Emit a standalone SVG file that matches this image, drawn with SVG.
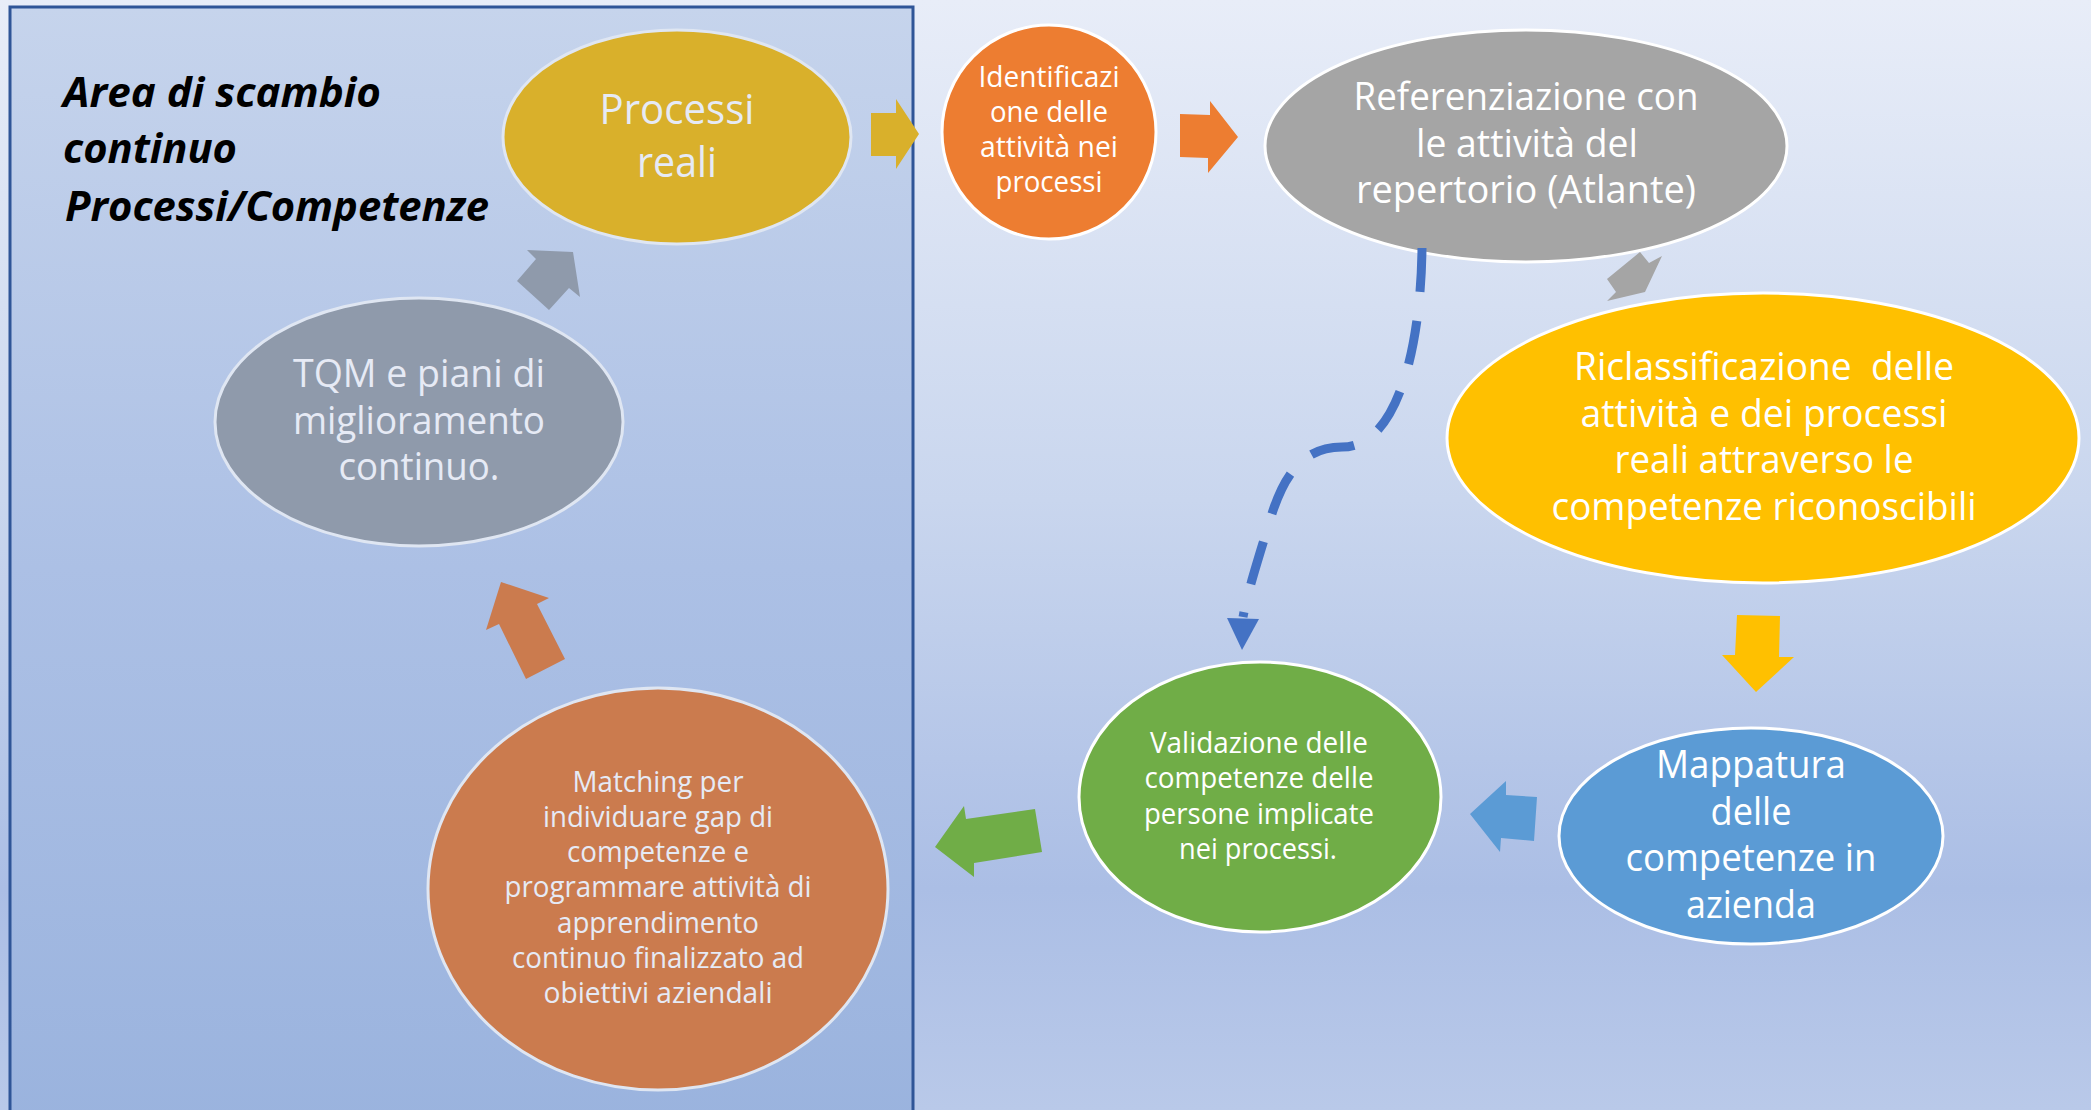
<svg xmlns="http://www.w3.org/2000/svg" width="2091" height="1110" viewBox="0 0 2091 1110">
  <defs>
    <linearGradient id="bg" x1="0" y1="0" x2="0" y2="1">
      <stop offset="0" stop-color="#e8edf8"/>
      <stop offset="0.45" stop-color="#c9d6ee"/>
      <stop offset="0.8" stop-color="#abbee5"/>
      <stop offset="1" stop-color="#b9c9e9"/>
    </linearGradient>
    <linearGradient id="areaFill" x1="0" y1="0" x2="0" y2="1">
      <stop offset="0" stop-color="#c6d4ec"/>
      <stop offset="0.5" stop-color="#acc0e5"/>
      <stop offset="1" stop-color="#9ab3de"/>
    </linearGradient>
    <style>
      .lbl { font-family: "Open Sans", "Liberation Sans", sans-serif; text-anchor: middle; fill: #ffffff; }
      .soft { fill: #e6eaf5; }
      .s29 { font-size: 28.8px; }
      .s38 { font-size: 37.8px; }
      .s41 { font-size: 41.4px; }
      .node { stroke: #ffffff; stroke-width: 3; }
      .nodeSoft { stroke: #dfe6f2; stroke-width: 3; }
      .title { font-family: "Open Sans", "Liberation Sans", sans-serif; font-size: 41.4px; font-weight: bold; font-style: italic; fill: #000000; }
      .dash { fill: none; stroke: #4472c4; stroke-width: 9; stroke-dasharray: 44 29; }
    </style>
  </defs>

  <!-- page background -->
  <rect x="0" y="0" width="2091" height="1110" fill="url(#bg)"/>

  <!-- exchange area frame -->
  <g id="area">
    <rect x="10" y="7" width="903" height="1120" fill="url(#areaFill)" stroke="#2f5597" stroke-width="3"/>
    <text class="title" x="63" y="107" textLength="318" lengthAdjust="spacingAndGlyphs">Area di scambio</text>
    <text class="title" x="63" y="163" textLength="174" lengthAdjust="spacingAndGlyphs">continuo</text>
    <text class="title" x="65" y="221" textLength="424" lengthAdjust="spacingAndGlyphs">Processi/Competenze</text>
  </g>

  <!-- nodes -->
  <g id="processi-reali">
    <ellipse class="nodeSoft" cx="677" cy="137" rx="174" ry="107" fill="#d9b02b"/>
    <text class="lbl soft s41" x="677" y="124" textLength="155" lengthAdjust="spacingAndGlyphs">Processi</text>
    <text class="lbl soft s41" x="677" y="177" textLength="80" lengthAdjust="spacingAndGlyphs">reali</text>
  </g>

  <g id="identificazione">
    <ellipse class="node" cx="1049" cy="132" rx="107" ry="107" fill="#ed7d31"/>
    <text class="lbl s29" x="1049" y="87" textLength="141" lengthAdjust="spacingAndGlyphs">Identificazi</text>
    <text class="lbl s29" x="1049" y="122" textLength="118" lengthAdjust="spacingAndGlyphs">one delle</text>
    <text class="lbl s29" x="1049" y="157" textLength="138" lengthAdjust="spacingAndGlyphs">attività nei</text>
    <text class="lbl s29" x="1049" y="192" textLength="107" lengthAdjust="spacingAndGlyphs">processi</text>
  </g>

  <g id="referenziazione">
    <ellipse class="node" cx="1526" cy="146" rx="261" ry="116" fill="#a5a5a5"/>
    <text class="lbl s38" x="1526" y="110" textLength="345" lengthAdjust="spacingAndGlyphs">Referenziazione con</text>
    <text class="lbl s38" x="1527" y="157" textLength="222" lengthAdjust="spacingAndGlyphs">le attività del</text>
    <text class="lbl s38" x="1526" y="203" textLength="340" lengthAdjust="spacingAndGlyphs">repertorio (Atlante)</text>
  </g>

  <g id="riclassificazione">
    <ellipse class="node" cx="1763" cy="438" rx="316" ry="145" fill="#ffc000"/>
    <text class="lbl s38" x="1764" y="380" textLength="380" lengthAdjust="spacingAndGlyphs" style="white-space:pre">Riclassificazione  delle</text>
    <text class="lbl s38" x="1764" y="427" textLength="367" lengthAdjust="spacingAndGlyphs">attività e dei processi</text>
    <text class="lbl s38" x="1764" y="473" textLength="299" lengthAdjust="spacingAndGlyphs">reali attraverso le</text>
    <text class="lbl s38" x="1764" y="520" textLength="425" lengthAdjust="spacingAndGlyphs">competenze riconoscibili</text>
  </g>

  <g id="mappatura">
    <ellipse class="node" cx="1751" cy="836" rx="192" ry="108" fill="#5b9bd5"/>
    <text class="lbl s38" x="1751" y="778" textLength="190" lengthAdjust="spacingAndGlyphs">Mappatura</text>
    <text class="lbl s38" x="1751" y="825" textLength="81" lengthAdjust="spacingAndGlyphs">delle</text>
    <text class="lbl s38" x="1751" y="871" textLength="251" lengthAdjust="spacingAndGlyphs">competenze in</text>
    <text class="lbl s38" x="1751" y="918" textLength="130" lengthAdjust="spacingAndGlyphs">azienda</text>
  </g>

  <g id="validazione">
    <ellipse class="node" cx="1260" cy="797" rx="181" ry="135" fill="#70ad47"/>
    <text class="lbl s29" x="1259" y="753" textLength="218" lengthAdjust="spacingAndGlyphs">Validazione delle</text>
    <text class="lbl s29" x="1259" y="788" textLength="229" lengthAdjust="spacingAndGlyphs">competenze delle</text>
    <text class="lbl s29" x="1259" y="824" textLength="230" lengthAdjust="spacingAndGlyphs">persone implicate</text>
    <text class="lbl s29" x="1258" y="859" textLength="158" lengthAdjust="spacingAndGlyphs">nei processi.</text>
  </g>

  <g id="matching">
    <ellipse class="nodeSoft" cx="658" cy="889" rx="230" ry="201" fill="#cb7b4e"/>
    <text class="lbl soft s29" x="658" y="792" textLength="171" lengthAdjust="spacingAndGlyphs">Matching per</text>
    <text class="lbl soft s29" x="658" y="827" textLength="230" lengthAdjust="spacingAndGlyphs">individuare gap di</text>
    <text class="lbl soft s29" x="658" y="862" textLength="182" lengthAdjust="spacingAndGlyphs">competenze e</text>
    <text class="lbl soft s29" x="658" y="897" textLength="307" lengthAdjust="spacingAndGlyphs">programmare attività di</text>
    <text class="lbl soft s29" x="658" y="933" textLength="202" lengthAdjust="spacingAndGlyphs">apprendimento</text>
    <text class="lbl soft s29" x="658" y="968" textLength="292" lengthAdjust="spacingAndGlyphs">continuo finalizzato ad</text>
    <text class="lbl soft s29" x="658" y="1003" textLength="229" lengthAdjust="spacingAndGlyphs">obiettivi aziendali</text>
  </g>

  <g id="tqm">
    <ellipse class="nodeSoft" cx="419" cy="422" rx="204" ry="124" fill="#8f9aab"/>
    <text class="lbl soft s38" x="419" y="387" textLength="252" lengthAdjust="spacingAndGlyphs">TQM e piani di</text>
    <text class="lbl soft s38" x="419" y="434" textLength="252" lengthAdjust="spacingAndGlyphs">miglioramento</text>
    <text class="lbl soft s38" x="419" y="480" textLength="161" lengthAdjust="spacingAndGlyphs">continuo.</text>
  </g>

  <!-- connectors: block arrows between steps, dashed link to validation -->
  <g id="connectors">
    <polygon fill="#d9b02b" points="871,113 896,113 896,99 919,134 896,169 896,156 871,156"/>
    <polygon fill="#ed7d31" points="1180,114 1210,115 1210,101 1238,137 1208,173 1208,158 1180,157"/>
    <polygon fill="#a5a5a5" points="1640,252 1649,263 1662,256 1645,292 1607,301 1616,292 1607,279"/>
    <polygon fill="#ffc000" points="1737,615 1780,616 1779,657 1794,657 1756,692 1722,655 1735,655"/>
    <polygon fill="#5b9bd5" points="1506,781 1506,795 1537,797 1534,841 1501,838 1500,852 1470,814"/>
    <polygon fill="#70ad47" points="964,806 966,819 1035,809 1042,852 974,863 974,877 935,847"/>
    <polygon fill="#cb7b4e" points="501,582 549,598 537,604 565,659 526,679 499,624 486,630"/>
    <polygon fill="#8f9aab" points="536,259 527,250 573,252 580,297 569,288 549,310 517,281"/>
    <path class="dash" d="M1422,248 C1421,340 1400,447 1342,447 C1300,447 1282,480 1270,520 C1258,560 1248,590 1243,617"/>
    <polygon fill="#4472c4" points="1227,618 1259,619 1242,650"/>
  </g>
</svg>
